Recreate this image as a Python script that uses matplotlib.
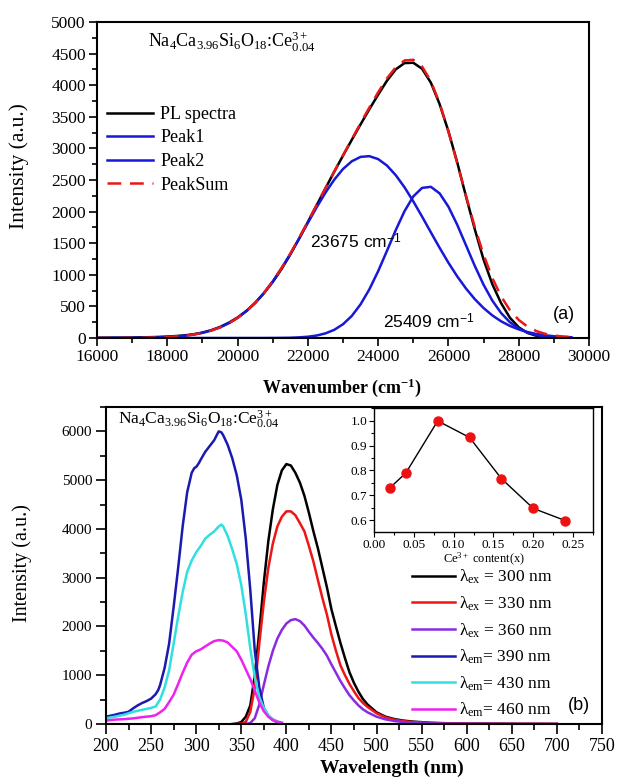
import matplotlib
matplotlib.use("Agg")
import matplotlib.pyplot as plt
from matplotlib.ticker import MultipleLocator

plt.rcParams['font.family'] = ['Liberation Serif', 'DejaVu Serif']
plt.rcParams['mathtext.fontset'] = 'custom'
plt.rcParams['mathtext.rm'] = 'Liberation Serif'
plt.rcParams['mathtext.it'] = 'Liberation Serif:italic'
plt.rcParams['mathtext.bf'] = 'Liberation Serif:bold'
plt.rcParams['mathtext.sf'] = 'Liberation Sans'

# ---------------- panel (a) data ----------------
wn = list(range(16000, 29501, 250))
wn_pl = list(range(16000, 29001, 250))
pl_spectra = [3, 4, 5, 6, 8, 10, 13, 17, 23, 31, 42, 60, 86, 124, 175, 242, 325, 428, 555, 708,
              885, 1090, 1320, 1570, 1835, 2100, 2368, 2630, 2885, 3135, 3380, 3620, 3850, 4070,
              4250, 4350, 4355, 4260, 4040, 3700, 3270, 2780, 2240, 1720, 1240, 850, 550, 320,
              170, 80, 35, 12, 5]
peak1 = [0, 0, 1, 1, 2, 3, 6, 9, 15, 24, 36, 55, 81, 118, 167, 233, 318, 424, 556, 713,
         895, 1103, 1330, 1573, 1822, 2067, 2299, 2504, 2674, 2796, 2866, 2877, 2831, 2729,
         2577, 2385, 2162, 1921, 1672, 1426, 1191, 975, 783, 615, 474, 357, 264, 191, 136,
         94, 64, 43, 28, 18, 11]
peak2 = [0] * 20 + [1, 2, 4, 10, 20, 39, 73, 129, 218, 349, 533, 770, 1057, 1378, 1706, 2006,
                    2240, 2375, 2392, 2288, 2077, 1792, 1467, 1141, 843, 591, 394, 249, 150, 86,
                    46, 23, 12, 5, 2]
peak_sum = [0, 0, 1, 1, 2, 3, 6, 9, 15, 24, 36, 55, 81, 118, 167, 233, 318, 424, 556, 713,
            896, 1105, 1334, 1583, 1842, 2106, 2372, 2633, 2892, 3145, 3399, 3647, 3888, 4107,
            4283, 4391, 4402, 4296, 4064, 3714, 3268, 2767, 2250, 1756, 1317, 948, 658, 440,
            286, 180, 110, 66, 40, 23, 13]

# ---------------- panel (b) data ----------------
wl_ex300 = [340, 345, 350, 355, 360, 365, 370, 375, 380, 385, 390, 395, 400, 405, 410, 415, 420,
            425, 430, 435, 440, 445, 450, 455, 460, 465, 470, 475, 480, 485, 490, 500, 510, 520,
            530, 540, 560, 580, 600, 650, 700]
em_ex300 = [0, 10, 40, 150, 380, 1000, 1900, 2900, 3750, 4400, 4900, 5200, 5330, 5300, 5150, 4950,
            4680, 4330, 3950, 3600, 3200, 2800, 2350, 2000, 1660, 1350, 1060, 840, 660, 510, 400,
            240, 150, 100, 70, 50, 25, 14, 8, 3, 1]
wl_ex330 = [345, 350, 355, 360, 365, 370, 375, 380, 385, 390, 395, 400, 405, 410, 415, 420, 425,
            430, 435, 440, 445, 450, 455, 460, 465, 470, 475, 480, 485, 490, 500, 510, 520, 530,
            540, 560, 580, 600, 650, 700]
em_ex330 = [0, 10, 40, 250, 750, 1650, 2500, 3200, 3700, 4050, 4250, 4360, 4360, 4280, 4120, 3950,
            3650, 3330, 2950, 2580, 2240, 1830, 1500, 1200, 1000, 820, 670, 530, 430, 350, 220,
            135, 85, 58, 40, 20, 12, 7, 3, 1]
wl_ex360 = [355, 360, 365, 370, 375, 380, 385, 390, 395, 400, 405, 410, 415, 420, 425, 430, 435,
            440, 445, 450, 455, 460, 465, 470, 475, 480, 485, 490, 500, 510, 520, 530, 540, 560,
            580, 600, 650, 700]
em_ex360 = [0, 20, 120, 400, 800, 1180, 1500, 1750, 1930, 2060, 2130, 2150, 2110, 2020, 1890, 1770,
            1660, 1540, 1400, 1220, 1050, 880, 730, 590, 480, 380, 300, 240, 150, 95, 60, 40, 28,
            14, 8, 5, 2, 1]
wl_em390 = [200, 205, 210, 215, 220, 225, 230, 235, 240, 245, 250, 255, 258, 260, 265, 270, 275,
            280, 285, 290, 295, 298, 300, 303, 305, 310, 315, 320, 323, 325, 328, 330, 335, 340,
            345, 350, 355, 360, 365, 370, 375, 380, 385, 390]
ex_em390 = [150, 170, 190, 215, 230, 250, 320, 380, 430, 470, 520, 610, 700, 800, 1150, 1650, 2400,
            3200, 4050, 4750, 5150, 5250, 5270, 5350, 5420, 5580, 5700, 5820, 5930, 6000, 5980,
            5920, 5720, 5450, 5100, 4600, 3800, 2750, 1500, 750, 330, 160, 80, 40]
wl_em430 = [200, 210, 220, 230, 240, 250, 255, 260, 265, 270, 275, 280, 285, 290, 295, 300, 305,
            310, 315, 320, 325, 328, 330, 335, 340, 345, 350, 355, 360, 365, 370, 375, 380, 385,
            390, 395]
ex_em430 = [120, 150, 190, 250, 290, 330, 360, 500, 750, 1100, 1650, 2200, 2700, 3120, 3350, 3520,
            3650, 3800, 3880, 3950, 4050, 4090, 4050, 3850, 3580, 3280, 2850, 2250, 1550, 950,
            550, 330, 180, 100, 55, 30]
wl_em460 = [200, 210, 220, 230, 240, 250, 255, 260, 265, 270, 275, 280, 285, 290, 295, 300, 305,
            310, 315, 320, 325, 330, 335, 340, 345, 350, 355, 360, 365, 370, 375, 380, 385, 390,
            395]
ex_em460 = [70, 90, 100, 115, 140, 160, 180, 240, 310, 450, 600, 820, 1050, 1260, 1420, 1490, 1530,
            1590, 1650, 1700, 1720, 1710, 1670, 1580, 1490, 1320, 1120, 920, 680, 440, 260, 150,
            80, 45, 25]

ce_content = [0.02, 0.04, 0.08, 0.12, 0.16, 0.20, 0.24]
rel_intensity = [0.73, 0.79, 1.0, 0.933, 0.767, 0.647, 0.598]

W, H = 618, 781
fig = plt.figure(figsize=(W / 100, H / 100), dpi=100)


def frac(l, t, r, b):
    return [l / W, 1 - b / H, (r - l) / W, (b - t) / H]


def style_axes(ax, lw=1.5, maj=6, mnr=3.5):
    for s in ax.spines.values():
        s.set_linewidth(lw)
    ax.tick_params(which='both', direction='out', top=False, right=False, width=1.2)
    ax.tick_params(which='major', length=maj)
    ax.tick_params(which='minor', length=mnr)


# ---------------- panel (a) ----------------
ax1 = fig.add_axes(frac(97, 22, 589, 338))
ax1.plot(wn_pl, pl_spectra, color='black', lw=1.8, label='PL spectra')
ax1.plot(wn, peak1, color='#1818d8', lw=1.8, label='Peak1')
ax1.plot(wn, peak2, color='#1818d8', lw=1.8, label='Peak2')
ax1.plot(wn, peak_sum, color='#e81818', lw=1.8, ls=(0, (5.5, 3.5)), label='PeakSum')
ax1.set_xlim(16000, 30000)
ax1.set_ylim(0, 5000)
ax1.xaxis.set_major_locator(MultipleLocator(2000))
ax1.xaxis.set_minor_locator(MultipleLocator(1000))
ax1.yaxis.set_major_locator(MultipleLocator(500))
ax1.yaxis.set_minor_locator(MultipleLocator(250))
style_axes(ax1, maj=6, mnr=3.5)
ax1.tick_params(axis='both', labelsize=12.5, pad=2)
ax1.set_ylabel('Intensity (a.u.)', fontsize=15.5)
ax1.yaxis.set_label_coords(-68 / 492, (338 - 166) / 316)
ax1.set_xlabel(r'Wavenumber (cm$^{\mathbf{-1}}$)', fontsize=13, fontweight='bold')
ax1.xaxis.set_label_coords((342 - 97) / 492, -(388 - 338) / 316)
ax1.xaxis.label.set_va('center')
ax1.text(17451, 4684, r'Na$_4$Ca$_{3.96}$Si$_6$O$_{18}$:Ce$_{0.04}^{3+}$', fontsize=13,
         va='center', ha='left')
ax1.text(22061, 1519, r'23675 cm$^{\mathsf{-1}}$', fontsize=12.5, family='Liberation Sans',
         va='center', ha='left')
ax1.text(24139, 258, r'25409 cm$^{\mathsf{-1}}$', fontsize=12.5, family='Liberation Sans',
         va='center', ha='left')
ax1.text(29275, 364, '(a)', fontsize=13, family='Liberation Sans', va='center', ha='center')
leg1 = ax1.legend(loc='upper left', bbox_to_anchor=((107 - 97) / 492, (338 - 106) / 316),
                  frameon=False, fontsize=13, handlelength=2.55, handletextpad=0.4,
                  labelspacing=0.36, borderpad=0, borderaxespad=0)

# ---------------- panel (b) ----------------
ax2 = fig.add_axes(frac(106, 407, 602, 724))
ax2.plot(wl_ex300, em_ex300, color='black', lw=1.8, label=r'λ$_{\mathrm{ex}}$ = 300 nm')
ax2.plot(wl_ex330, em_ex330, color='#ee1515', lw=1.8, label=r'λ$_{\mathrm{ex}}$ = 330 nm')
ax2.plot(wl_ex360, em_ex360, color='#8a2be2', lw=1.8, label=r'λ$_{\mathrm{ex}}$ = 360 nm')
ax2.plot(wl_em390, ex_em390, color='#1a1ab0', lw=1.8, label=r'λ$_{\mathrm{em}}$= 390 nm')
ax2.plot(wl_em430, ex_em430, color='#30e0e0', lw=1.8, label=r'λ$_{\mathrm{em}}$= 430 nm')
ax2.plot(wl_em460, ex_em460, color='#ee22ee', lw=1.8, label=r'λ$_{\mathrm{em}}$= 460 nm')
ax2.set_xlim(200, 750)
ax2.set_ylim(0, 6500)
ax2.xaxis.set_major_locator(MultipleLocator(50))
ax2.xaxis.set_minor_locator(MultipleLocator(25))
ax2.yaxis.set_major_locator(MultipleLocator(1000))
ax2.yaxis.set_minor_locator(MultipleLocator(500))
style_axes(ax2, maj=7, mnr=4)
ax2.tick_params(axis='x', labelsize=13, pad=3)
ax2.tick_params(axis='y', labelsize=11, pad=3)
ax2.set_ylabel('Intensity (a.u.)', fontsize=14.5)
ax2.yaxis.set_label_coords(-(106 - 32) / 496, (724 - 563) / 317)
ax2.set_xlabel('Wavelength (nm)', fontsize=14, fontweight='bold')
ax2.xaxis.set_label_coords((392 - 106) / 496, -(768 - 724) / 317)
ax2.xaxis.label.set_va('center')
ax2.text(213.3, 6226, r'Na$_4$Ca$_{3.96}$Si$_6$O$_{18}$:Ce$_{0.04}^{3+}$', fontsize=12.5,
         va='center', ha='left')
ax2.text(724, 389, '(b)', fontsize=13, family='Liberation Sans', va='center', ha='center')
leg2 = ax2.legend(loc='upper left', bbox_to_anchor=((412 - 106) / 496, (724 - 568) / 317),
                  frameon=False, fontsize=12.5, handlelength=2.5, handletextpad=0.2,
                  labelspacing=0.47, borderpad=0, borderaxespad=0)

# ---------------- inset ----------------
ax3 = fig.add_axes(frac(374, 407.5, 593, 531.7))
ax3.plot(ce_content, rel_intensity, color='black', lw=1.0, marker='o', ms=6.5,
         mfc='#ee1111', mec='#ee1111', zorder=3)
ax3.set_xlim(0, 0.275)
ax3.set_ylim(0.553, 1.054)
ax3.xaxis.set_major_locator(MultipleLocator(0.05))
ax3.xaxis.set_minor_locator(MultipleLocator(0.025))
ax3.yaxis.set_major_locator(MultipleLocator(0.1))
ax3.yaxis.set_minor_locator(MultipleLocator(0.05))
ax3.xaxis.set_major_formatter(matplotlib.ticker.FormatStrFormatter('%.2f'))
ax3.yaxis.set_major_formatter(matplotlib.ticker.FormatStrFormatter('%.1f'))
style_axes(ax3, lw=1.0, maj=3.5, mnr=2)
ax3.tick_params(which='both', width=0.8)
ax3.tick_params(axis='both', labelsize=9.5, pad=1.5)
ax3.set_xlabel(r'Ce$^{3+}$ content(x)', fontsize=9, labelpad=0)

fig.savefig('out.png', dpi=100)
